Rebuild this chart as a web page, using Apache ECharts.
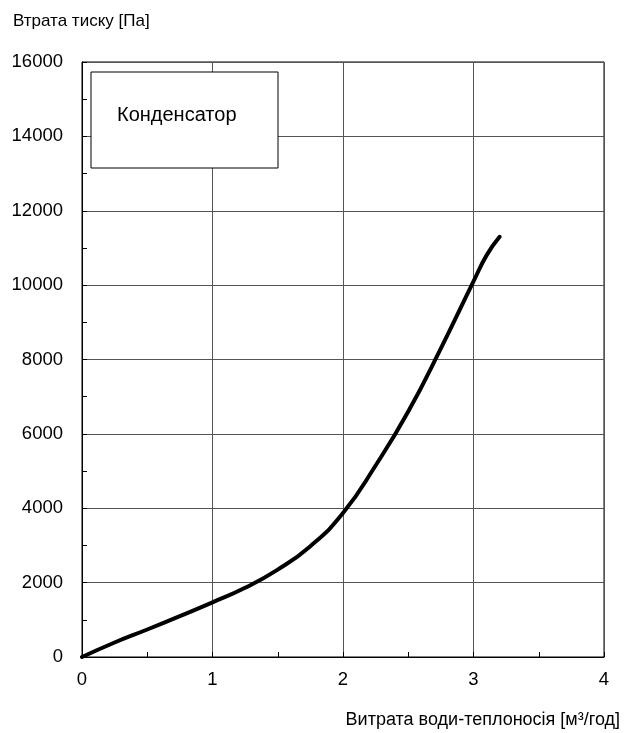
<!DOCTYPE html>
<html>
<head>
<meta charset="utf-8">
<script src="https://cdn.jsdelivr.net/npm/echarts@6/dist/echarts.min.js"></script>
<style>
  html, body { margin: 0; padding: 0; background: #fff; }
  #chart { width: 633px; height: 733px; }
</style>
</head>
<body>
<div id="chart"></div>
<script>
// витрата води, м3/год
const flowX = [0, 0.25, 0.5, 0.75, 1.0, 1.25, 1.5, 1.75, 2.0, 2.25, 2.5, 2.75, 3.0, 3.1, 3.2];
// втрата тиску, Па
const pressureY = [0, 390, 740, 1100, 1470, 1860, 2350, 2980, 3870, 5150, 6600, 8300, 10100, 10800, 11300];
const xTicks = [0, 1, 2, 3, 4];
const yTicks = [0, 2000, 4000, 6000, 8000, 10000, 12000, 14000, 16000];
const legendLabel = 'Конденсатор';
const yTitle = 'Втрата тиску [Па]';
const xTitle = 'Витрата води-теплоносія [м³/год]';

const font = 'Liberation Sans, Arial, sans-serif';
const chart = echarts.init(document.getElementById('chart'));

chart.setOption({
    animation: false,
    grid: {
        left: 82, right: 29, top: 62, bottom: 76,
        show: true, borderColor: '#000', borderWidth: 1
    },
    xAxis: {
        type: 'value',
        min: xTicks[0], max: xTicks[xTicks.length - 1], interval: 1,
        axisLine: { lineStyle: { color: '#000', width: 1 } },
        axisTick: { inside: true, length: 5, lineStyle: { color: '#000' } },
        minorTick: { show: true, splitNumber: 2, length: 5, lineStyle: { color: '#000' } },
        splitLine: { show: true, lineStyle: { color: '#555', width: 1 } },
        axisLabel: { color: '#000', fontSize: 18.5, fontFamily: font, margin: 13, formatter: v => String(v) }
    },
    yAxis: {
        type: 'value',
        min: yTicks[0], max: yTicks[yTicks.length - 1], interval: 2000,
        axisLine: { show: true, lineStyle: { color: '#000', width: 1 } },
        axisTick: { show: true, inside: true, length: 5, lineStyle: { color: '#000' } },
        minorTick: { show: true, splitNumber: 2, length: 5, lineStyle: { color: '#000' } },
        splitLine: { show: true, lineStyle: { color: '#555', width: 1 } },
        axisLabel: { color: '#000', fontSize: 18.5, fontFamily: font, margin: 19, formatter: v => String(v) }
    },
    series: [{
        type: 'line',
        name: legendLabel,
        data: flowX.map((x, i) => [x, pressureY[i]]),
        smooth: 0.5,
        symbol: 'none',
        lineStyle: { color: '#000', width: 4, cap: 'round' }
    }],
    graphic: [
        {
            type: 'rect',
            shape: { x: 91, y: 72, width: 187, height: 96 },
            style: { fill: '#fff', stroke: '#000', lineWidth: 1 },
            z: 100
        },
        {
            type: 'text', left: 117, top: 105, z: 101,
            style: { text: legendLabel, font: '20px ' + font, fill: '#000' }
        },
        {
            type: 'text', left: 13, top: 13,
            style: { text: yTitle, font: '17px ' + font, fill: '#000' }
        },
        {
            type: 'text', right: 13, top: 711,
            style: { text: xTitle, font: '18px ' + font, fill: '#000' }
        }
    ]
});
</script>
</body>
</html>
